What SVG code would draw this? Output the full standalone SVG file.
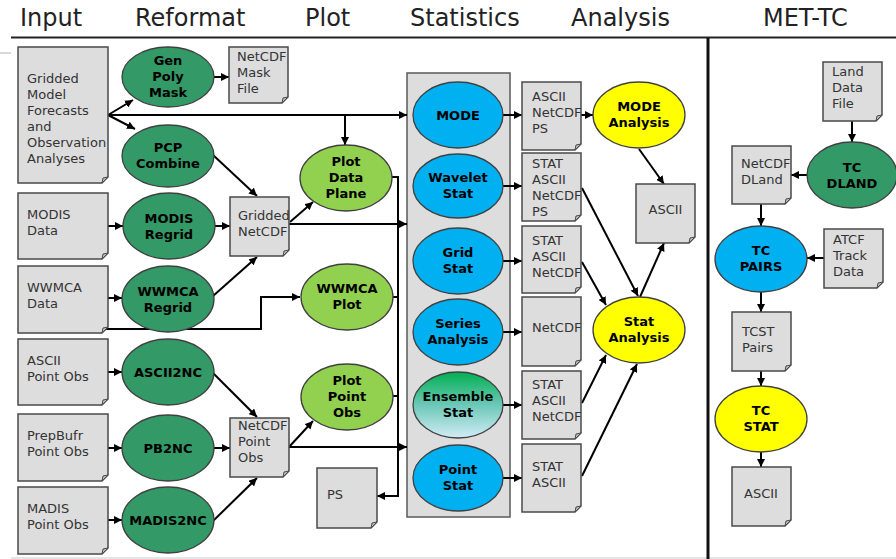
<svg xmlns="http://www.w3.org/2000/svg" width="896" height="559" viewBox="0 0 896 559">
<style>
.hd{font-family:"DejaVu Sans",Verdana,sans-serif;font-size:24px;fill:#222}
.doc{fill:#dddddd;stroke:#4a4a4a;stroke-width:1.5}
.fold{fill:#bdbdbd;stroke:#4a4a4a;stroke-width:1}
.dt{font-family:"DejaVu Sans",Verdana,sans-serif;font-size:13px;fill:#333}
.et{font-family:"DejaVu Sans",Verdana,sans-serif;font-size:13px;font-weight:bold;fill:#000;text-anchor:middle}
.el{stroke:#404040;stroke-width:1.3}
.dg{fill:#339966}
.lg{fill:#92d050}
.bl{fill:#00b0f0}
.yl{fill:#ffff00}
.c{fill:none;stroke:#000;stroke-width:2}
.a{marker-end:url(#ah)}
</style>
<defs>
<marker id="ah" viewBox="0 0 10 10" refX="10" refY="5" markerWidth="8" markerHeight="8" orient="auto" markerUnits="userSpaceOnUse"><path d="M0,0 L10,5 L0,10 z" fill="#000"/></marker>
<linearGradient id="ens" x1="0" y1="0" x2="0" y2="1">
<stop offset="0" stop-color="#00b050"/>
<stop offset="0.5" stop-color="#6cc8b8"/>
<stop offset="1" stop-color="#d2ecf6"/>
</linearGradient>
</defs>
<rect width="896" height="559" fill="#fff"/>
<g id="headers">
<text class="hd" x="20" y="26">Input</text>
<text class="hd" x="135" y="26">Reformat</text>
<text class="hd" x="305" y="26">Plot</text>
<text class="hd" x="410" y="26">Statistics</text>
<text class="hd" x="571" y="26">Analysis</text>
<text class="hd" x="763" y="26">MET-TC</text>
</g>
<g id="frame">
<line x1="11" y1="37.5" x2="896" y2="37.5" stroke="#222" stroke-width="2"/>
<line x1="0" y1="53" x2="11" y2="53" stroke="#ccc" stroke-width="1.5"/>
<line x1="11" y1="558" x2="896" y2="558" stroke="#ddd" stroke-width="1.5"/>
<line x1="708" y1="38" x2="708" y2="559" stroke="#111" stroke-width="3"/>
</g>
<g id="stats-container"><rect x="407" y="73" width="103" height="444" fill="#dddddd" stroke="#5a5a5a" stroke-width="1.5"/></g>

<g id="connectors">
<path class="c a" d="M108,115 L133,100"/>
<path class="c a" d="M108,115 L135,129"/>
<path class="c a" d="M108,115 H407"/>
<path class="c a" d="M345,115 V145"/>
<path class="c a" d="M214,77 H229"/>
<path class="c a" d="M213,155 L257,196"/>
<path class="c a" d="M108,226 H123"/>
<path class="c a" d="M215,226 H230"/>
<path class="c a" d="M108,298 H122"/>
<path class="c a" d="M213,296 L257,257"/>
<path class="c a" d="M102,329 H261 V297 H300"/>
<path class="c a" d="M290,222 L313,202"/>
<path class="c a" d="M289,224 H407"/>
<path class="c a" d="M392,177 H398 V496 H377"/>
<path class="c" d="M392,297 H398"/>
<path class="c" d="M393,396 H398"/>
<path class="c a" d="M108,372 H122"/>
<path class="c a" d="M213,373 L257,417"/>
<path class="c a" d="M108,448 H122"/>
<path class="c a" d="M214,448 H230"/>
<path class="c a" d="M108,520 H122"/>
<path class="c a" d="M213,521 L257,478"/>
<path class="c a" d="M289,447 L313,421"/>
<path class="c a" d="M289,447 H407"/>
<path class="c a" d="M503,115 H522"/>
<path class="c a" d="M503,186 H522"/>
<path class="c a" d="M503,261 H522"/>
<path class="c a" d="M503,332 H522"/>
<path class="c a" d="M503,405 H522"/>
<path class="c a" d="M503,478 H522"/>
<path class="c a" d="M581,115 H593"/>
<path class="c a" d="M639,149 L664,184"/>
<path class="c a" d="M582,188 L638,296"/>
<path class="c a" d="M582,262 L606,305"/>
<path class="c a" d="M582,403 L606,355"/>
<path class="c a" d="M582,476 L637,364"/>
<path class="c a" d="M640,297 L664,243"/>
<path class="c a" d="M852,121 V142"/>
<path class="c a" d="M807,175 H791"/>
<path class="c a" d="M761,204 V226"/>
<path class="c a" d="M824,258 H807"/>
<path class="c a" d="M761,292 V312"/>
<path class="c a" d="M761,371 V386"/>
<path class="c a" d="M761,452 V467"/>
</g>

<g id="in-gridded"><path class="doc" d="M18,47 H108 V177 L102,183 H18 Z"/><path class="fold" d="M102,183 L103,178 L108,177 Z"/>
<text class="dt" x="27" y="83">Gridded</text><text class="dt" x="27" y="99">Model</text><text class="dt" x="27" y="115">Forecasts</text><text class="dt" x="27" y="131">and</text><text class="dt" x="27" y="147">Observation</text><text class="dt" x="27" y="163">Analyses</text></g>
<g id="in-modis"><path class="doc" d="M18,193 H108 V253 L102,259 H18 Z"/><path class="fold" d="M102,259 L103,254 L108,253 Z"/>
<text class="dt" x="27" y="219">MODIS</text><text class="dt" x="27" y="235">Data</text></g>
<g id="in-wwmca"><path class="doc" d="M18,266 H108 V327 L102,333 H18 Z"/><path class="fold" d="M102,333 L103,328 L108,327 Z"/>
<text class="dt" x="27" y="292">WWMCA</text><text class="dt" x="27" y="308">Data</text></g>
<g id="in-ascii"><path class="doc" d="M18,339 H108 V399 L102,405 H18 Z"/><path class="fold" d="M102,405 L103,400 L108,399 Z"/>
<text class="dt" x="27" y="365">ASCII</text><text class="dt" x="27" y="381">Point Obs</text></g>
<g id="in-prepbufr"><path class="doc" d="M18,414 H108 V475 L102,481 H18 Z"/><path class="fold" d="M102,481 L103,476 L108,475 Z"/>
<text class="dt" x="27" y="440">PrepBufr</text><text class="dt" x="27" y="456">Point Obs</text></g>
<g id="in-madis"><path class="doc" d="M18,487 H108 V548 L102,554 H18 Z"/><path class="fold" d="M102,554 L103,549 L108,548 Z"/>
<text class="dt" x="27" y="513">MADIS</text><text class="dt" x="27" y="529">Point Obs</text></g>

<g id="gen-poly-mask"><ellipse class="el dg" cx="168" cy="77" rx="46" ry="30"/><text class="et" x="168" y="65">Gen</text><text class="et" x="168" y="81">Poly</text><text class="et" x="168" y="97">Mask</text></g>
<g id="pcp-combine"><ellipse class="el dg" cx="168" cy="156" rx="46" ry="31"/><text class="et" x="168" y="152">PCP</text><text class="et" x="168" y="168">Combine</text></g>
<g id="modis-regrid"><ellipse class="el dg" cx="169" cy="226" rx="46" ry="33"/><text class="et" x="169" y="223">MODIS</text><text class="et" x="169" y="239">Regrid</text></g>
<g id="wwmca-regrid"><ellipse class="el dg" cx="168" cy="299" rx="46" ry="33"/><text class="et" x="168" y="296">WWMCA</text><text class="et" x="168" y="312">Regrid</text></g>
<g id="ascii2nc"><ellipse class="el dg" cx="168" cy="372" rx="46" ry="33"/><text class="et" x="168" y="377">ASCII2NC</text></g>
<g id="pb2nc"><ellipse class="el dg" cx="168" cy="448" rx="46" ry="33"/><text class="et" x="168" y="453">PB2NC</text></g>
<g id="madis2nc"><ellipse class="el dg" cx="168" cy="520" rx="46" ry="33"/><text class="et" x="168" y="525">MADIS2NC</text></g>

<g id="netcdf-mask"><path class="doc" d="M229,47 H288 V97 L282,103 H229 Z"/><path class="fold" d="M282,103 L283,98 L288,97 Z"/>
<text class="dt" x="237" y="61">NetCDF</text><text class="dt" x="237" y="77">Mask</text><text class="dt" x="237" y="93">File</text></g>
<g id="gridded-netcdf"><path class="doc" d="M230,197 H289 V250 L283,256 H230 Z"/><path class="fold" d="M283,256 L284,251 L289,250 Z"/>
<text class="dt" x="238" y="220">Gridded</text><text class="dt" x="238" y="236">NetCDF</text></g>
<g id="netcdf-point-obs"><path class="doc" d="M230,418 H289 V471 L283,477 H230 Z"/><path class="fold" d="M283,477 L284,472 L289,471 Z"/>
<text class="dt" x="238" y="430">NetCDF</text><text class="dt" x="238" y="446">Point</text><text class="dt" x="238" y="462">Obs</text></g>

<g id="plot-data-plane"><ellipse class="el lg" cx="346" cy="178" rx="46" ry="33"/><text class="et" x="346" y="166">Plot</text><text class="et" x="346" y="182">Data</text><text class="et" x="346" y="198">Plane</text></g>
<g id="wwmca-plot"><ellipse class="el lg" cx="347" cy="297" rx="46" ry="33"/><text class="et" x="347" y="293">WWMCA</text><text class="et" x="347" y="309">Plot</text></g>
<g id="plot-point-obs"><ellipse class="el lg" cx="347" cy="397" rx="46" ry="33"/><text class="et" x="347" y="385">Plot</text><text class="et" x="347" y="401">Point</text><text class="et" x="347" y="417">Obs</text></g>
<g id="ps"><path class="doc" d="M317,468 H377 V522 L371,528 H317 Z"/><path class="fold" d="M371,528 L372,523 L377,522 Z"/>
<text class="dt" x="327" y="499">PS</text></g>

<g id="mode"><ellipse class="el bl" cx="458" cy="115" rx="45" ry="33"/><text class="et" x="458" y="120">MODE</text></g>
<g id="wavelet-stat"><ellipse class="el bl" cx="458" cy="186" rx="45" ry="32"/><text class="et" x="458" y="182">Wavelet</text><text class="et" x="458" y="198">Stat</text></g>
<g id="grid-stat"><ellipse class="el bl" cx="458" cy="261" rx="45" ry="33"/><text class="et" x="458" y="257">Grid</text><text class="et" x="458" y="273">Stat</text></g>
<g id="series-analysis"><ellipse class="el bl" cx="458" cy="332" rx="45" ry="33"/><text class="et" x="458" y="328">Series</text><text class="et" x="458" y="344">Analysis</text></g>
<g id="ensemble-stat"><ellipse class="el" fill="url(#ens)" cx="458" cy="405" rx="45" ry="33"/><text class="et" x="458" y="401">Ensemble</text><text class="et" x="458" y="417">Stat</text></g>
<g id="point-stat"><ellipse class="el bl" cx="458" cy="478" rx="45" ry="33"/><text class="et" x="458" y="474">Point</text><text class="et" x="458" y="490">Stat</text></g>

<g id="out-mode"><path class="doc" d="M522,82 H581 V144 L575,150 H522 Z"/><path class="fold" d="M575,150 L576,145 L581,144 Z"/>
<text class="dt" x="532" y="101">ASCII</text><text class="dt" x="532" y="117">NetCDF</text><text class="dt" x="532" y="133">PS</text></g>
<g id="out-wavelet"><path class="doc" d="M522,153 H581 V215 L575,221 H522 Z"/><path class="fold" d="M575,221 L576,216 L581,215 Z"/>
<text class="dt" x="532" y="168">STAT</text><text class="dt" x="532" y="184">ASCII</text><text class="dt" x="532" y="200">NetCDF</text><text class="dt" x="532" y="216">PS</text></g>
<g id="out-grid"><path class="doc" d="M522,226 H581 V287 L575,293 H522 Z"/><path class="fold" d="M575,293 L576,288 L581,287 Z"/>
<text class="dt" x="532" y="245">STAT</text><text class="dt" x="532" y="261">ASCII</text><text class="dt" x="532" y="277">NetCDF</text></g>
<g id="out-series"><path class="doc" d="M522,297 H581 V360 L575,366 H522 Z"/><path class="fold" d="M575,366 L576,361 L581,360 Z"/>
<text class="dt" x="532" y="332">NetCDF</text></g>
<g id="out-ensemble"><path class="doc" d="M522,371 H581 V433 L575,439 H522 Z"/><path class="fold" d="M575,439 L576,434 L581,433 Z"/>
<text class="dt" x="532" y="389">STAT</text><text class="dt" x="532" y="405">ASCII</text><text class="dt" x="532" y="421">NetCDF</text></g>
<g id="out-point"><path class="doc" d="M522,444 H581 V506 L575,512 H522 Z"/><path class="fold" d="M575,512 L576,507 L581,506 Z"/>
<text class="dt" x="532" y="471">STAT</text><text class="dt" x="532" y="487">ASCII</text></g>

<g id="mode-analysis"><ellipse class="el yl" cx="639" cy="115" rx="46" ry="33"/><text class="et" x="639" y="111">MODE</text><text class="et" x="639" y="127">Analysis</text></g>
<g id="analysis-ascii"><path class="doc" d="M636,184 H695 V237 L689,243 H636 Z"/><path class="fold" d="M689,243 L690,238 L695,237 Z"/>
<text class="dt" x="665.5" y="214" text-anchor="middle">ASCII</text></g>
<g id="stat-analysis"><ellipse class="el yl" cx="639" cy="330" rx="46" ry="33"/><text class="et" x="639" y="326">Stat</text><text class="et" x="639" y="342">Analysis</text></g>

<g id="land-data-file"><path class="doc" d="M823,62 H882 V115 L876,121 H823 Z"/><path class="fold" d="M876,121 L877,116 L882,115 Z"/>
<text class="dt" x="832" y="76">Land</text><text class="dt" x="832" y="92">Data</text><text class="dt" x="832" y="108">File</text></g>
<g id="tc-dland"><ellipse class="el dg" cx="852" cy="175" rx="45" ry="33"/><text class="et" x="852" y="172">TC</text><text class="et" x="852" y="188">DLAND</text></g>
<g id="netcdf-dland"><path class="doc" d="M732,146 H791 V198 L785,204 H732 Z"/><path class="fold" d="M785,204 L786,199 L791,198 Z"/>
<text class="dt" x="741" y="168">NetCDF</text><text class="dt" x="741" y="184">DLand</text></g>
<g id="tc-pairs"><ellipse class="el bl" cx="761" cy="259" rx="46" ry="33"/><text class="et" x="761" y="255">TC</text><text class="et" x="761" y="271">PAIRS</text></g>
<g id="atcf"><path class="doc" d="M824,229 H883 V282 L877,288 H824 Z"/><path class="fold" d="M877,288 L878,283 L883,282 Z"/>
<text class="dt" x="833" y="244">ATCF</text><text class="dt" x="833" y="260">Track</text><text class="dt" x="833" y="276">Data</text></g>
<g id="tcst-pairs"><path class="doc" d="M732,312 H791 V365 L785,371 H732 Z"/><path class="fold" d="M785,371 L786,366 L791,365 Z"/>
<text class="dt" x="742" y="336">TCST</text><text class="dt" x="742" y="352">Pairs</text></g>
<g id="tc-stat"><ellipse class="el yl" cx="761" cy="419" rx="46" ry="33"/><text class="et" x="761" y="415">TC</text><text class="et" x="761" y="431">STAT</text></g>
<g id="tc-ascii"><path class="doc" d="M732,467 H791 V520 L785,526 H732 Z"/><path class="fold" d="M785,526 L786,521 L791,520 Z"/>
<text class="dt" x="761" y="498" text-anchor="middle">ASCII</text></g>
</svg>
